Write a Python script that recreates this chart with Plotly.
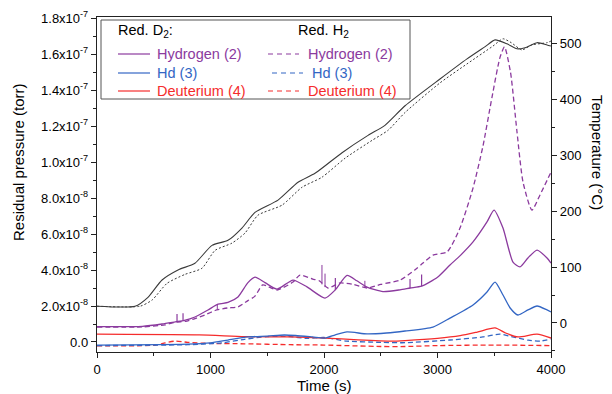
import numpy as np
import plotly.graph_objects as go

E8 = 1e-8  # pressure values below are given in units of 1e-8 torr

# --- Red. D2 (solid) ---
h2_d2_t = [0, 400, 573, 690, 770, 863, 978, 1066, 1154, 1242, 1330, 1392, 1480, 1586, 1727, 1850, 2009, 2100,
           2203, 2290, 2379, 2520, 2670, 2760, 2860, 3000, 3110, 3200, 3313, 3436, 3498, 3577, 3665, 3727, 3797,
           3877, 3965, 4000]
h2_d2_p = [0.85, 0.87, 1.0, 1.12, 1.2, 1.39, 1.78, 2.1, 2.2, 2.5, 3.3, 3.6, 3.3, 2.94, 3.44, 3.06, 2.44, 2.9,
           3.7, 3.4, 3.05, 2.8, 2.9, 3.0, 3.1, 3.6, 4.28, 4.8, 5.56, 6.67, 7.33, 6.33, 4.44, 4.17, 4.67,
           5.11, 4.67, 4.39]
h2_d2_spike_t = [705, 758, 2100, 2758, 2860]
h2_d2_spike_base = [1.12, 1.18, 2.9, 3.0, 3.1]
h2_d2_spike_top = [1.55, 1.6, 3.55, 3.5, 3.75]

hd_d2_t = [0, 800, 1000, 1154, 1330, 1500, 1650, 1750, 1900, 2009, 2100, 2203, 2379, 2550, 2714, 2960, 3110, 3313,
           3436, 3507, 3577, 3640, 3709, 3797, 3877, 3965, 4000]
hd_d2_p = [-0.17, -0.12, -0.05, 0.11, 0.28, 0.33, 0.39, 0.36, 0.28, 0.22, 0.4, 0.56, 0.45, 0.5, 0.61, 0.83, 1.33, 2.06,
           2.78, 3.33, 2.61, 1.89, 1.5, 1.78, 2.0, 1.78, 1.67]

d2_d2_t = [0, 900, 1300, 1700, 2009, 2300, 2600, 2714, 3000, 3200, 3350, 3507, 3600, 3709, 3877, 4000]
d2_d2_p = [0.44, 0.4, 0.3, 0.28, 0.22, 0.12, 0.05, 0.08, 0.2, 0.35, 0.55, 0.78, 0.5, 0.28, 0.44, 0.22]

# --- Red. H2 (dashed) ---
h2_h2_t = [0, 400, 600, 690, 780, 863, 950, 1040, 1150, 1242, 1330, 1392, 1460, 1586, 1727, 1788, 1900, 1960,
           2035, 2141, 2260, 2379, 2500, 2670, 2800, 2872, 2960, 3084, 3198, 3313, 3401, 3480, 3550, 3590, 3643,
           3700, 3753, 3832, 3903, 4000]
h2_h2_p = [0.83, 0.84, 0.95, 1.1, 1.15, 1.3, 1.5, 1.75, 1.89, 1.95, 2.3, 2.55, 3.17, 2.89, 3.33, 3.72, 3.5, 3.4,
           3.0, 3.28, 3.2, 3.0, 3.2, 3.44, 4.0, 4.39, 4.83, 5.0, 6.33, 8.56, 10.9, 13.6, 15.8, 16.4, 15.0,
           11.7, 8.9, 7.33, 8.17, 9.44]
h2_h2_spike_t = [1060, 1982, 2009, 2360]
h2_h2_spike_base = [1.8, 3.2, 3.05, 3.05]
h2_h2_spike_top = [2.1, 4.28, 3.8, 3.4]

hd_h2_t = [0, 800, 1100, 1300, 1500, 1700, 1850, 2000, 2200, 2500, 2714, 3110, 3400, 3550, 3650, 3800, 3903, 4000]
hd_h2_p = [-0.2, -0.15, -0.05, 0.15, 0.3, 0.3, 0.2, 0.25, 0.05, -0.02, -0.04, 0.11, 0.28, 0.44, 0.3, 0.1, 0.05, 0.17]

d2_h2_t = [0, 500, 600, 690, 800, 1000, 1300, 1700, 2000, 2500, 2714, 3000, 3500, 4000]
d2_h2_p = [-0.22, -0.18, -0.05, 0.05, -0.02, -0.08, -0.1, -0.15, -0.17, -0.25, -0.25, -0.2, -0.17, -0.2]

# --- Temperatures (right axis) ---
temp_d2_t = [0, 335, 449, 573, 714, 863, 1013, 1154, 1277, 1392, 1595, 1771, 1921, 2159, 2388, 2537, 2714, 3022,
             3260, 3420, 3507, 3612, 3700, 3771, 3877, 3965, 4000]
temp_d2_T = [30, 30, 46, 77, 95, 107, 139, 148, 170, 198, 220, 252, 268, 305, 336, 354, 389, 437,
             473, 495, 507, 500, 491, 493, 502, 498, 496]
temp_h2_t = [0, 380, 485, 617, 775, 925, 1040, 1189, 1304, 1418, 1630, 1806, 1982, 2185, 2423, 2564, 2714, 3022,
             3260, 3489, 3577, 3650, 3744, 3830, 3965, 4000]
temp_h2_T = [30, 30, 41, 71, 87, 98, 130, 143, 161, 193, 211, 243, 261, 295, 327, 345, 377, 430,
             464, 496, 509, 502, 489, 498, 502, 505]

y_tickvals = [0, 2e-8, 4e-8, 6e-8, 8e-8, 1e-7, 1.2e-7, 1.4e-7, 1.6e-7, 1.8e-7]
y_ticktext = ["0.0", "2.0x10<sup>-8</sup>", "4.0x10<sup>-8</sup>", "6.0x10<sup>-8</sup>", "8.0x10<sup>-8</sup>",
              "1.0x10<sup>-7</sup>", "1.2x10<sup>-7</sup>", "1.4x10<sup>-7</sup>", "1.6x10<sup>-7</sup>",
              "1.8x10<sup>-7</sup>"]

PURPLE = "#8B3A9E"
BLUE = "#3366C4"
RED = "#F52C2C"
DARK = "#3A3A3A"
FONT = "Liberation Sans, Arial, sans-serif"

fig = go.Figure()

def add(t, v, color, dash, yaxis="y", scale=E8, width=1.3):
    fig.add_trace(go.Scatter(x=t, y=np.array(v) * scale, mode="lines", yaxis=yaxis,
                             line=dict(color=color, width=width, dash=dash, shape="spline", smoothing=0.6),
                             showlegend=False, hoverinfo="skip"))

def add_spikes(ts, base, top, color, width=1.2):
    xs, ys = [], []
    for t, b, tp in zip(ts, base, top):
        xs += [t, t, None]
        ys += [b * E8, tp * E8, None]
    fig.add_trace(go.Scatter(x=xs, y=ys, mode="lines", line=dict(color=color, width=width),
                             showlegend=False, hoverinfo="skip"))

add(temp_d2_t, temp_d2_T, DARK, "solid", yaxis="y2", scale=1, width=1.1)
add(temp_h2_t, temp_h2_T, DARK, "2px,2px", yaxis="y2", scale=1, width=1.0)
add(d2_h2_t, d2_h2_p, RED, "5px,3px")
add(hd_h2_t, hd_h2_p, BLUE, "5px,3px")
add(h2_h2_t, h2_h2_p, PURPLE, "5px,3px")
add_spikes(h2_h2_spike_t, h2_h2_spike_base, h2_h2_spike_top, PURPLE, width=1.0)
add(d2_d2_t, d2_d2_p, RED, "solid")
add(hd_d2_t, hd_d2_p, BLUE, "solid")
add(h2_d2_t, h2_d2_p, PURPLE, "solid")
add_spikes(h2_d2_spike_t, h2_d2_spike_base, h2_d2_spike_top, PURPLE)

# page body has an 8px margin: figure is drawn from (8, 8) in the window
OFF = 8
FW, FH = 612 - OFF, 394 - OFF
L, R, T, B = 97, 551, 17, 352   # plot area in window pixels
W, H = R - L, B - T
def px(x):
    return (x - L) / W
def py(y):
    return (B - y) / H

shapes = [dict(type="rect", xref="paper", yref="paper", x0=px(101), x1=px(410), y0=py(99), y1=py(20),
               line=dict(color="#555", width=1), fillcolor="white", layer="below")]
annotations = []
LF = 14.5
rows = [("Hydrogen (2)", PURPLE, 54, 0), ("Hd (3)", BLUE, 73, 4), ("Deuterium (4)", RED, 91, 0)]
for label, col, yy, off in rows:
    shapes.append(dict(type="line", xref="paper", yref="paper", x0=px(118), x1=px(150), y0=py(yy), y1=py(yy),
                       line=dict(color=col, width=1.2)))
    annotations.append(dict(x=px(155), y=py(yy), xref="paper", yref="paper", text=label, showarrow=False,
                            xanchor="left", yanchor="middle", font=dict(size=LF, color=col, family=FONT)))
    shapes.append(dict(type="line", xref="paper", yref="paper", x0=px(268 + off), x1=px(299 + off), y0=py(yy),
                       y1=py(yy), line=dict(color=col, width=1.2, dash="5px,4px")))
    annotations.append(dict(x=px(306 + off), y=py(yy), xref="paper", yref="paper", text=label, showarrow=False,
                            xanchor="left", yanchor="middle", font=dict(size=LF, color=col, family=FONT)))
annotations.append(dict(x=px(116), y=py(31), xref="paper", yref="paper", text="Red. D<sub>2</sub>:",
                        showarrow=False, xanchor="left", yanchor="middle", font=dict(size=LF, color="black", family=FONT)))
annotations.append(dict(x=px(296), y=py(31), xref="paper", yref="paper", text="Red. H<sub>2</sub>",
                        showarrow=False, xanchor="left", yanchor="middle", font=dict(size=LF, color="black", family=FONT)))
annotations.append(dict(x=px(18), y=py(162), xref="paper", yref="paper", text="Residual pressure (torr)",
                        showarrow=False, textangle=-90, xanchor="center", yanchor="middle",
                        font=dict(size=15, color="black", family=FONT)))
annotations.append(dict(x=px(598), y=py(152), xref="paper", yref="paper", text="Temperature (°C)",
                        showarrow=False, textangle=90, xanchor="center", yanchor="middle",
                        font=dict(size=15, color="black", family=FONT)))
annotations.append(dict(x=px(324), y=py(385), xref="paper", yref="paper", text="Time (s)",
                        showarrow=False, xanchor="center", yanchor="middle",
                        font=dict(size=15, color="black", family=FONT)))

axis_common = dict(showgrid=False, zeroline=False, showline=True, linecolor="#222", linewidth=1.4,
                   ticks="outside", ticklen=5, tickwidth=1.2, tickcolor="#222",
                   tickfont=dict(size=13, color="black", family=FONT))

fig.update_layout(
    width=FW, height=FH,
    margin=dict(l=L - OFF, r=612 - R, t=T - OFF, b=394 - B, autoexpand=False),
    paper_bgcolor="white", plot_bgcolor="white",
    xaxis=dict(range=[0, 4000], tickvals=[0, 1000, 2000, 3000, 4000], mirror=True,
               minor=dict(tick0=0, dtick=500, ticks="outside", ticklen=3, tickcolor="#222"), **axis_common),
    yaxis=dict(range=[-0.556e-8, 1.806e-7], tickmode="array", tickvals=y_tickvals, ticktext=y_ticktext,
               minor=dict(tick0=0, dtick=1e-8, ticks="outside", ticklen=3, tickcolor="#222"), **axis_common),
    yaxis2=dict(range=[-52, 548], overlaying="y", side="right", tickvals=[0, 100, 200, 300, 400, 500],
                minor=dict(tick0=0, dtick=50, ticks="outside", ticklen=3, tickcolor="#222"), **axis_common),
    shapes=shapes, annotations=annotations,
)

fig.write_html("out.html")
